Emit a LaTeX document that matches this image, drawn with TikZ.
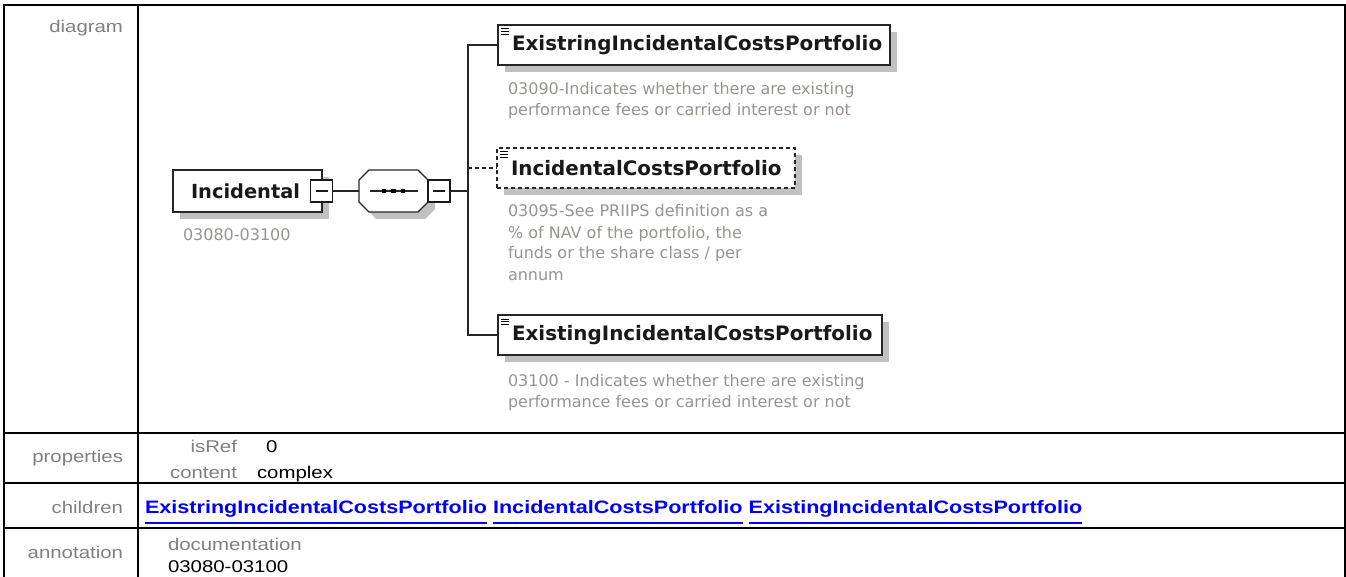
\documentclass[tikz,border=0pt]{standalone}
\usepackage{fontspec}
\setmainfont{DejaVu Sans}
\newfontfamily\tabfont[FakeStretch=1.2]{Liberation Sans}
\usetikzlibrary{positioning,shadows}
\definecolor{lblgray}{RGB}{128,128,128}
\definecolor{docgray}{RGB}{152,147,142}
\definecolor{linkblue}{RGB}{0,0,255}
\definecolor{shadegray}{RGB}{192,192,192}

\begin{document}
\begin{tikzpicture}[x=1pt, y=-1pt,
    every node/.style={inner sep=0pt, outer sep=0pt},
    frame/.style={line width=2pt},
    rowlabel/.style={font=\tabfont\fontsize{17}{20}\selectfont, text=lblgray, anchor=base east},
    propval/.style={font=\tabfont\fontsize{17}{20}\selectfont, text=black, anchor=base west},
    link/.style={font=\tabfont\bfseries\fontsize{18}{20}\selectfont, text=linkblue},
    castshadow/.style={drop shadow={shadow xshift=7pt, shadow yshift=-7pt, opacity=1, fill=shadegray}},
    elem/.style={draw=black!85, line width=1.5pt, fill=white, castshadow, minimum height=40pt,
      text width=#1, align=left, font=\fontsize{19.9}{22}\selectfont\bfseries, text=black!90, anchor=west},
    toggle/.style={draw=black!90, line width=1.8pt, fill=white, minimum size=22pt,
      path picture={\draw[line width=1.2pt] ([xshift=-6pt]path picture bounding box.center) -- ([xshift=6pt]path picture bounding box.center);}},
    wire/.style={line width=1.3pt, black!85},
    docnote/.style={font=\fontsize{16}{21}\selectfont, text=docgray, align=left, anchor=base west}
  ]
  \useasboundingbox (0,0) rectangle (1346,577);

  % table frame
  \draw[frame] (4,577) -- (4,5) -- (1345,5) -- (1345,577);
  \draw[frame] (138,5) -- (138,577);
  \foreach \yy in {433,483,528}
    \draw[frame] (4,\yy) -- (1345,\yy);

  % row labels
  \node[rowlabel] (lbldiag)  at (123,33)  {diagram};
  \node[rowlabel] (lblprop)  at (123,462) {properties};
  \node[rowlabel] (lblchild) at (123,513) {children};
  \node[rowlabel] (lblanno)  at (123,558) {annotation};

  % properties
  \node[rowlabel] (kref)  at (237,452) {isRef};
  \node[propval]  (vref)  at (266,452) {0};
  \node[rowlabel] (kcont) at (237,478) {content};
  \node[propval]  (vcont) at (257,478) {complex};

  % children
  \node[link, anchor=base west] (ch1) at (145,513.5) {ExistringIncidentalCostsPortfolio};
  \node[link, base right=6pt of ch1] (ch2) {IncidentalCostsPortfolio};
  \node[link, base right=6pt of ch2] (ch3) {ExistingIncidentalCostsPortfolio};
  \foreach \c in {ch1,ch2,ch3}
    \draw[linkblue, line width=2pt] ([yshift=-9pt]\c.base west) -- ([yshift=-9pt]\c.base east);

  % annotation
  \node[rowlabel, anchor=base west] (kdoc) at (168,550) {documentation};
  \node[propval] (vdoc) at (168,572) {03080-03100};

  % diagram
  \node[elem=149pt, minimum height=42pt, font=\fontsize{19.4}{22}\selectfont\bfseries] (inc) at (173,191) {\hspace*{18pt}Incidental};
  \node[toggle] (inctog) at (321.5,191) {};
  \node[docnote] (incdoc) at (183,241) {03080-03100};

  % sequence compositor
  \node[minimum width=69pt, minimum height=42pt] (seq) at (393.5,191) {};
  \fill[shadegray] (376,177) -- (425,177) -- (435,187) -- (435,209) -- (425,219) -- (376,219) -- (366,209) -- (366,187) -- cycle;
  \filldraw[fill=white, draw=black!85, line width=1.3pt] (369,170) -- (418,170) -- (428,180) -- (428,202) -- (418,212) -- (369,212) -- (359,202) -- (359,180) -- cycle;
  \draw[wire] ([xshift=11pt]seq.west) -- ([xshift=-10pt]seq.east);
  \foreach \dx in {-9.5,0,9.5}
    \fill[black] ([xshift=\dx pt]seq.center) +(-2.3,-2.3) rectangle +(2.3,2.3);
  \node[toggle] (seqtog) at (439,191) {};
  \coordinate (bus) at (468,191);

  \node[elem=392pt] (b1) at (498,45) {\mbox{\hspace*{14pt}ExistringIncidentalCostsPortfolio}};
  \node[elem=298pt, dash pattern=on 4pt off 3pt] (b2) at (497,168) {\mbox{\hspace*{14pt}IncidentalCostsPortfolio}};
  \node[elem=384pt] (b3) at (498,335) {\mbox{\hspace*{14pt}ExistingIncidentalCostsPortfolio}};
  \foreach \bx in {b1,b2,b3}
    \foreach \k in {0,1,2}
      \draw[line width=1pt] ([shift={(3,4+2.6*\k)}]\bx.north west) -- ++(8,0);

  \node[docnote] (d1) at (508,116) {03090-Indicates whether there are existing\\performance fees or carried interest or not};
  \node[docnote] (d2) at (508,280) {03095-See PRIIPS definition as a\\\% of NAV of the portfolio, the\\funds or the share class / per\\annum};
  \node[docnote] (d3) at (508,407) {03100 - Indicates whether there are existing\\performance fees or carried interest or not};

  % connectors
  \draw[wire] (inctog.east) -- (seq.west);
  \draw[wire] (seqtog.east) -- (bus);
  \draw[wire] (b1.west) -| (bus) |- (b3.west);
  \draw[wire, dash pattern=on 4pt off 3pt] (bus |- b2.west) -- (b2.west);
\end{tikzpicture}
\end{document}
